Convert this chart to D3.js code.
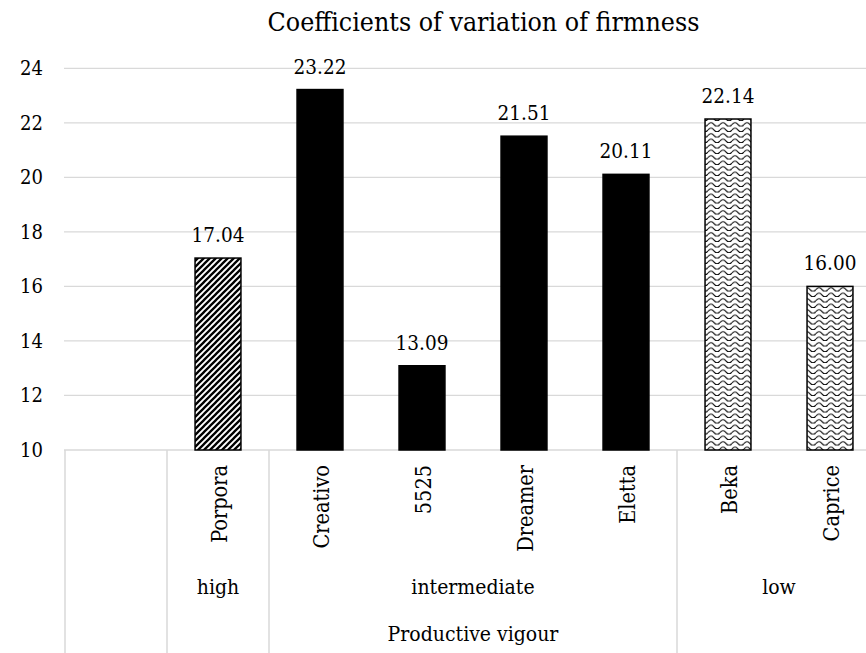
<!DOCTYPE html>
<html><head><meta charset="utf-8">
<script src="https://cdn.jsdelivr.net/npm/d3@7"></script>
<style>
body{margin:0;background:#fff} svg{display:block}
svg text{font-family:"DejaVu Serif Condensed","DejaVu Serif",serif;font-stretch:condensed;fill:#000}
</style>
</head><body>
<script>
// ---- data ----
const categories = ["", "Porpora", "Creativo", "5525", "Dreamer", "Eletta", "Beka", "Caprice"];
const values = [null, 17.04, 23.22, 13.09, 21.51, 20.11, 22.14, 16.00];
const valueLabels = ["", "17.04", "23.22", "13.09", "21.51", "20.11", "22.14", "16.00"];
const groupOf = ["", "high", "intermediate", "intermediate", "intermediate", "intermediate", "low", "low"];
const groupNames = ["high", "intermediate", "low"];
const yTicks = [10, 12, 14, 16, 18, 20, 22, 24];
const chartTitle = "Coefficients of variation of firmness";
const axisTitle = "Productive vigour";

// ---- layout ----
const W = 866, H = 653;
const svg = d3.select("body").append("svg").attr("width", W).attr("height", H);

const x = d3.scaleBand().domain(categories).range([65, 881]).paddingInner(0.55).paddingOuter(0.275);
const y = d3.scaleLinear().domain([10, 24]).range([450, 68.3]);
const step = x.step(), bw = x.bandwidth();
const gap = (step - bw) / 2;

// patterns
const defs = svg.append("defs");
const pd = defs.append("pattern").attr("id", "diag").attr("patternUnits", "userSpaceOnUse")
  .attr("width", 6).attr("height", 6);
pd.append("rect").attr("width", 6).attr("height", 6).attr("fill", "#fff");
pd.append("path").attr("d", "M-1.5,1.5 L1.5,-1.5 M0,6 L6,0 M4.5,7.5 L7.5,4.5")
  .attr("stroke", "#000").attr("stroke-width", 2.3);
const pw = defs.append("pattern").attr("id", "wave").attr("patternUnits", "userSpaceOnUse")
  .attr("width", 12).attr("height", 5.5);
pw.append("rect").attr("width", 12).attr("height", 5.5).attr("fill", "#fff");
pw.append("path").attr("d", "M0,3.5 C2,1 4,1 6,3.5 C8,6 10,6 12,3.5")
  .attr("fill", "none").attr("stroke", "#000").attr("stroke-width", 1.1);
const fillFor = g => g === "high" ? "url(#diag)" : g === "low" ? "url(#wave)" : "#000";

// gridlines
svg.append("g").selectAll("line").data(yTicks).join("line")
  .attr("x1", 64).attr("x2", W).attr("y1", d => y(d)).attr("y2", d => y(d))
  .attr("stroke", "#d9d9d9").attr("stroke-width", 1.3);

// y axis labels
const ya = svg.append("g").attr("transform", "translate(64,0)")
  .call(d3.axisLeft(y).tickValues(yTicks).tickSize(0).tickPadding(21).tickFormat(d3.format("d")));
ya.select(".domain").remove();
ya.attr("font-family", null).attr("font-size", null);
ya.selectAll("text").style("font-size", "20px").attr("fill", "#000");

// table separators
const bounds = [0, 1];
for (let i = 2; i < categories.length; i++) if (groupOf[i] !== groupOf[i - 1]) bounds.push(i);
svg.append("g").selectAll("line").data(bounds).join("line")
  .attr("x1", i => x(categories[i]) - gap).attr("x2", i => x(categories[i]) - gap)
  .attr("y1", y(10)).attr("y2", H)
  .attr("stroke", "#d9d9d9").attr("stroke-width", 1.5);

// bars
const idx = d3.range(categories.length).filter(i => values[i] != null);
svg.append("g").selectAll("rect").data(idx).join("rect")
  .attr("x", i => x(categories[i])).attr("width", bw)
  .attr("y", i => y(values[i])).attr("height", i => y(10) - y(values[i]))
  .attr("fill", i => fillFor(groupOf[i]))
  .attr("stroke", "#000").attr("stroke-width", 1.5);

// value labels
svg.append("g").selectAll("text").data(idx).join("text")
  .attr("x", i => x(categories[i]) + bw / 2).attr("y", i => y(values[i]) - 16)
  .attr("text-anchor", "middle").style("font-size", "20.5px")
  .text(i => valueLabels[i]);

// category labels (rotated)
svg.append("g").selectAll("text").data(idx).join("text")
  .attr("transform", i => `translate(${x(categories[i]) + bw / 2 + 1},465) rotate(-90)`)
  .attr("text-anchor", "end").attr("dy", "0.35em").style("font-size", "21.5px")
  .text(i => categories[i]);

// group labels
svg.append("g").selectAll("text").data(groupNames).join("text")
  .attr("x", g => {
    const ii = d3.range(categories.length).filter(i => groupOf[i] === g);
    return (x(categories[ii[0]]) + x(categories[ii[ii.length - 1]]) + bw) / 2;
  })
  .attr("y", 594).attr("text-anchor", "middle").style("font-size", "21px").text(g => g);

// axis title
svg.append("text").attr("x", (x.range()[0] + x.range()[1]) / 2).attr("y", 641)
  .attr("text-anchor", "middle").style("font-size", "21px").text(axisTitle);

// chart title
svg.append("text").attr("x", 483.5).attr("y", 31).attr("text-anchor", "middle")
  .style("font-size", "26.5px").text(chartTitle);
</script>
</body></html>
